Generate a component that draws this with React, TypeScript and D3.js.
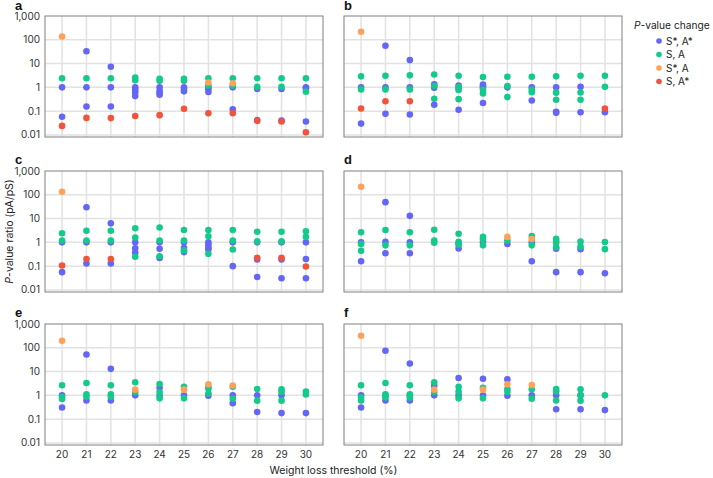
import React from 'react';
import * as d3 from 'd3';

// thresholds on the x axis (weight loss %)
const thresholds = [20, 21, 22, 23, 24, 25, 26, 27, 28, 29, 30];
const yTicks = [0.01, 0.1, 1, 10, 100, 1000];
const yTickLabels = ['0.01', '0.1', '1', '10', '100', '1,000'];

// each array: one list of P-value ratios per threshold (20..30)
const aBlue = [[1, 0.058], [33, 1, 0.157], [7.4, 1, 0.157], [1, 0.8, 0.62, 0.43], [1, 0.72, 0.58, 0.49], [1, 0.85, 0.68], [1, 0.85, 0.64], [1, 0.12], [0.85, 0.042], [0.85, 0.04], [1, 0.92, 0.037]];
const aGreen = [[2.4], [2.4], [2.4], [2.6, 2.0], [2.3, 1.9], [2.3, 1.9], [2.4, 1.2], [2.4, 1.2], [2.4, 1.05], [2.4, 1.05], [2.4, 0.66]];
const aOrange = [[138], [], [], [], [], [], [1.6], [1.5], [], [], []];
const aRed = [[0.024], [0.052], [0.051], [0.063], [0.068], [0.126], [0.082], [0.082], [0.039], [0.037], [0.013]];

const bBlue = [[1, 0.03], [56, 1, 0.077], [14, 1, 0.072], [1.35, 0.97, 0.185], [1.2, 0.9, 0.114], [1.3, 1.1, 0.95, 0.22], [1.0], [1.0, 0.28], [1.0, 0.095, 0.085], [1.05, 0.09], [0.09]];
const bGreen = [[2.9, 0.82], [3.1, 0.82], [3.2, 0.82], [3.5, 1.17, 0.33], [3.1, 1.03, 0.77, 0.32], [2.7, 0.8, 0.55], [2.8, 1.15, 0.39], [2.8, 0.8, 0.62], [2.9, 0.6, 0.3], [3.1, 0.61, 0.3], [3.1, 1.05]];
const bOrange = [[218], [], [], [], [], [], [], [], [], [], []];
const bRed = [[0.13], [0.26], [0.26], [], [], [], [], [], [], [], [0.13]];

const cBlue = [[1, 0.056], [30, 1, 0.13], [6.3, 1, 0.13], [1, 0.56, 0.37], [1, 0.54, 0.22], [1, 0.58, 0.39], [1, 0.8, 0.6, 0.5], [1, 0.1], [1, 0.19, 0.035], [1, 0.19, 0.031], [1, 0.2, 0.031]];
const cGreen = [[2.4, 1.2], [3.1, 1.2], [3.1, 1.2], [3.9, 1.6, 0.25], [4.2, 1.2, 0.26], [3.3, 1.2, 0.46], [3.3, 1.8, 0.33], [3.3, 1.2, 0.5], [2.8, 1.1], [2.8, 1.1], [2.9, 1.7]];
const cOrange = [[134], [], [], [], [], [], [], [], [], [], []];
const cRed = [[0.107], [0.2], [0.2], [], [], [], [], [], [0.225], [0.225], [0.097]];

const dBlue = [[1, 0.16], [49, 1.05, 0.35], [13, 1, 0.35], [], [0.9, 0.55], [1], [0.85], [1, 0.16], [0.54, 0.056], [0.52, 0.056], [0.05]];
const dGreen = [[2.65, 0.85, 0.44], [3.3, 0.75], [2.65, 0.75], [3.4, 1.2, 0.97], [2.3, 1.05, 0.8], [1.7, 1.35, 0.75], [1.2], [1.85, 0.75], [1.4, 1.15, 0.97, 0.62], [1.07, 0.66], [1.03, 0.52]];
const dOrange = [[218], [], [], [], [], [], [1.7], [1.38], [], [], []];
const dRed = [[], [], [], [], [], [], [], [], [], [], []];

const eBlue = [[1, 0.31], [52, 0.61], [13, 0.61], [1], [2.1, 0.97], [1], [0.97], [1, 0.47], [1, 0.2], [1, 0.18], [0.18]];
const eGreen = [[2.65, 0.85, 0.7], [3.3, 1.1, 0.88], [2.65, 1.1, 0.88], [3.55, 1.38], [3.0, 1.38, 0.75], [2.3, 0.75], [2.3, 1.9, 1.2], [2.3, 0.72], [1.85, 0.6], [1.8, 1.43, 0.6], [1.43, 1.1]];
const eOrange = [[198], [], [], [1.74], [], [1.74], [2.9], [2.6], [], [], []];
const eRed = [[], [], [], [], [], [], [], [], [], [], []];

const fBlue = [[1, 0.31], [75, 1, 0.61], [22, 1, 0.61], [2.56, 1], [5.4, 1], [5.0, 1], [4.7, 0.97], [1], [1, 0.26], [1, 0.26], [0.24]];
const fGreen = [[2.65, 0.82, 0.61], [3.3, 1.1, 0.82], [2.65, 1.1, 0.82], [3.55, 1.38], [2.3, 1.43, 0.75], [2.1, 0.75], [1.85, 1.43], [1.8, 0.72], [1.85, 1.5, 0.61], [1.8, 1, 0.6], [1]];
const fOrange = [[320], [], [], [1.74], [], [1.74], [2.9], [2.7], [], [], []];
const fRed = [[], [], [], [], [], [], [], [], [], [], []];

const seriesNames = ['S*, A*', 'S, A', 'S*, A', 'S, A*'];
const COLORS = ['#6366f6', '#14c98c', '#ffa159', '#f2533b'];

const panels = [
  { label: 'a', series: [aBlue, aGreen, aOrange, aRed] },
  { label: 'b', series: [bBlue, bGreen, bOrange, bRed] },
  { label: 'c', series: [cBlue, cGreen, cOrange, cRed] },
  { label: 'd', series: [dBlue, dGreen, dOrange, dRed] },
  { label: 'e', series: [eBlue, eGreen, eOrange, eRed] },
  { label: 'f', series: [fBlue, fGreen, fOrange, fRed] },
];

const W = 713;
const H = 478;
const colX = [45, 344];
const rowY = [16, 171, 324];
const pw = 278;
const ph = 121;
const FONT = 'Inter, "Noto Sans", sans-serif';

const x = d3.scaleLinear().domain([19.3, 30.7]).range([0, pw]);
const y = d3.scaleLog().domain([0.0082, 1000]).range([ph, 0]);

const Panel = ({ p, col, row }) => {
  const left = colX[col];
  const top = rowY[row];
  return (
    <g transform={`translate(${left},${top})`}>
      <text
        x={col === 0 ? -30 : 0}
        y={row === 0 ? -6.5 : -7.5}
        fontFamily='"Liberation Sans", Arial, sans-serif'
        fontWeight="bold"
        fontSize={13}
        fill="#111"
      >
        {p.label}
      </text>
      {yTicks.slice(0, 5).map(t => (
        <line key={t} x1={0} x2={pw} y1={y(t)} y2={y(t)} stroke="#e2e2e2" strokeWidth={1.5} />
      ))}
      {thresholds.map(t => (
        <line key={t} x1={x(t)} x2={x(t)} y1={0} y2={ph} stroke="#e2e2e2" strokeWidth={1.5} />
      ))}
      <rect x={0} y={0} width={pw} height={ph} fill="none" stroke="#808080" strokeWidth={1} />
      {col === 0 &&
        yTicks.map((t, i) => (
          <text key={t} x={-5} y={y(t)} dy="0.35em" textAnchor="end" fontFamily={FONT} fontSize={10} fill="#333">
            {yTickLabels[i]}
          </text>
        ))}
      {row === 2 &&
        thresholds.map(t => (
          <text key={t} x={x(t)} y={ph + 13} textAnchor="middle" fontFamily={FONT} fontSize={10} fill="#333">
            {t}
          </text>
        ))}
      {p.series.map((s, si) => (
        <g key={si} fill={COLORS[si]}>
          {s.map((vals, i) =>
            vals.map((v, j) => <circle key={`${i}-${j}`} cx={x(thresholds[i])} cy={y(v)} r={3.3} />)
          )}
        </g>
      ))}
    </g>
  );
};

export default function App() {
  return (
    <svg width={W} height={H} style={{ position: 'absolute', left: 0, top: 0, background: '#fff' }}>
      {panels.map((p, i) => (
        <Panel key={p.label} p={p} col={i % 2} row={Math.floor(i / 2)} />
      ))}
      <text
        transform={`translate(13,${rowY[1] + ph / 2}) rotate(-90)`}
        textAnchor="middle"
        fontFamily={FONT}
        fontSize={10.5}
        fill="#222"
      >
        <tspan fontStyle="italic">P</tspan>-value ratio (pA/pS)
      </text>
      <text x={(colX[0] + colX[1] + pw) / 2} y={474} textAnchor="middle" fontFamily={FONT} fontSize={10.5} fill="#222">
        Weight loss threshold (%)
      </text>
      <g transform="translate(634,0)">
        <text x={0} y={29} fontFamily={FONT} fontSize={10.2} fill="#222">
          <tspan fontStyle="italic">P</tspan>-value change
        </text>
        <g transform="translate(25,0)">
          {seriesNames.map((n, i) => (
            <g key={n} transform={`translate(0,${41 + i * 13.5})`}>
              <circle r={2.8} fill={COLORS[i]} />
              <text x={7} dy="0.35em" fontFamily={FONT} fontSize={10} fill="#222">
                {n}
              </text>
            </g>
          ))}
        </g>
      </g>
    </svg>
  );
}
